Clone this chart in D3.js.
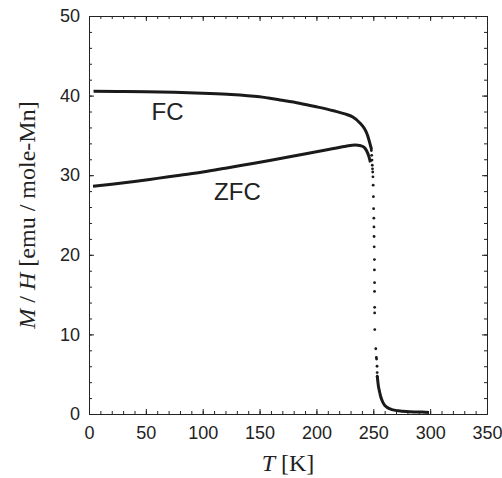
<!DOCTYPE html>
<html>
<head>
<meta charset="utf-8">
<script src="https://cdn.jsdelivr.net/npm/d3@7"></script>
<style>
  body { margin: 0; background: #fff; }
  .tick text { font-family: "Liberation Sans", Arial, sans-serif; font-size: 18px; fill: #222; }
</style>
</head>
<body>
<svg id="chart" width="502" height="478"></svg>
<script>
// T in K, M/H in emu / mole-Mn
// FC (field cooled) smooth part
const fcTemp = [4, 25, 50, 75, 100, 125, 150, 168, 185, 200, 215, 225, 232, 238, 242, 245, 247, 248.5];
const fcVal  = [40.55, 40.52, 40.48, 40.42, 40.3, 40.15, 39.85, 39.45, 39.05, 38.6, 38.1, 37.7, 37.3, 36.6, 35.9, 35.0, 34.0, 33.2];

// ZFC (zero field cooled) smooth part
const zfcTemp = [3.5, 20, 40, 60, 80, 100, 120, 140, 160, 180, 200, 215, 226, 234, 239, 242, 244, 246, 247.5];
const zfcVal  = [28.6, 28.85, 29.2, 29.6, 30.0, 30.4, 30.88, 31.38, 31.88, 32.4, 32.95, 33.35, 33.65, 33.8, 33.7, 33.5, 33.1, 32.4, 31.6];

// separated points of the transition (both runs merge here)
const dropTemp = [248.3, 248.6, 248.9, 249.1, 249.3, 249.5, 249.7, 249.9, 250.1, 250.3, 250.5, 250.6, 250.7, 250.8,
                  251.0, 251.0, 251.1, 251.1, 251.2, 251.2, 251.3, 252.2, 252.7, 252.9, 253.3, 253.4, 253.5];
const dropVal  = [33.1, 32.5, 31.9, 31.25, 30.8, 30.4, 29.8, 28.75, 27.3, 25.8, 24.6, 23.5, 22.3, 21.0,
                  19.4, 18.1, 16.5, 15.4, 13.4, 12.7, 10.6, 8.2, 7.1, 6.9, 6.0, 5.2, 4.75];

// paramagnetic tail
const tailTemp = [253.5, 254.5, 255.5, 256.5, 258, 259.5, 262, 266.5, 272, 279, 290, 299];
const tailVal  = [4.75, 3.5, 2.8, 2.2, 1.6, 1.2, 0.85, 0.55, 0.4, 0.3, 0.25, 0.2];

const xMajor = [0, 50, 100, 150, 200, 250, 300, 350];
const yMajor = [0, 10, 20, 30, 40, 50];
const xMinor = d3.range(0, 351, 10);
const yMinor = d3.range(0, 51, 2);

const svg = d3.select("#chart");
const pLeft = 89, pRight = 487, pTop = 16, pBottom = 414;

const x = d3.scaleLinear().domain([0, 350]).range([pLeft, pRight]);
const y = d3.scaleLinear().domain([0, 50]).range([pBottom, pTop]);

// minor ticks on all four sides
svg.append("g").attr("transform", `translate(0,${pBottom})`)
  .call(d3.axisBottom(x).tickValues(xMinor).tickSize(-3).tickSizeOuter(0).tickFormat(""));
svg.append("g").attr("transform", `translate(0,${pTop})`)
  .call(d3.axisTop(x).tickValues(xMinor).tickSize(-3).tickSizeOuter(0).tickFormat(""));
svg.append("g").attr("transform", `translate(${pLeft},0)`)
  .call(d3.axisLeft(y).tickValues(yMinor).tickSize(-3).tickSizeOuter(0).tickFormat(""));
svg.append("g").attr("transform", `translate(${pRight},0)`)
  .call(d3.axisRight(y).tickValues(yMinor).tickSize(-3).tickSizeOuter(0).tickFormat(""));

// major ticks, labels only bottom and left
svg.append("g").attr("transform", `translate(0,${pBottom})`)
  .call(d3.axisBottom(x).tickValues(xMajor).tickSize(-5).tickSizeOuter(0).tickPadding(12));
svg.append("g").attr("transform", `translate(0,${pTop})`)
  .call(d3.axisTop(x).tickValues(xMajor).tickSize(-5).tickSizeOuter(0).tickFormat(""));
svg.append("g").attr("transform", `translate(${pLeft},0)`)
  .call(d3.axisLeft(y).tickValues(yMajor).tickSize(-5).tickSizeOuter(0).tickPadding(9));
svg.append("g").attr("transform", `translate(${pRight},0)`)
  .call(d3.axisRight(y).tickValues(yMajor).tickSize(-5).tickSizeOuter(0).tickFormat(""));

svg.selectAll(".domain").attr("stroke", "#222");
svg.selectAll(".tick line").attr("stroke", "#222");

// curves
const line = d3.line().x(d => x(d[0])).y(d => y(d[1])).curve(d3.curveMonotoneX);
const ink = "#1a1a1a";

svg.append("path").datum(d3.zip(fcTemp, fcVal))
  .attr("d", line).attr("fill", "none").attr("stroke", ink).attr("stroke-width", 3);
svg.append("path").datum(d3.zip(zfcTemp, zfcVal))
  .attr("d", line).attr("fill", "none").attr("stroke", ink).attr("stroke-width", 3);
svg.append("path").datum(d3.zip(tailTemp, tailVal))
  .attr("d", line).attr("fill", "none").attr("stroke", ink).attr("stroke-width", 3);

svg.selectAll(".pt").data(d3.zip(dropTemp, dropVal)).enter()
  .append("circle").attr("class", "pt")
  .attr("cx", d => x(d[0])).attr("cy", d => y(d[1])).attr("r", 1.4).attr("fill", ink);

// curve labels
svg.append("text").attr("x", x(55)).attr("y", y(36.9)).text("FC")
  .style("font-family", "Liberation Sans, Arial, sans-serif").style("font-size", "24px").attr("fill", "#222");
svg.append("text").attr("x", x(110)).attr("y", y(26.9)).text("ZFC")
  .style("font-family", "Liberation Sans, Arial, sans-serif").style("font-size", "24px").attr("fill", "#222");

// axis titles
const xt = svg.append("text").attr("x", (pLeft + pRight) / 2).attr("y", 471).attr("text-anchor", "middle")
  .style("font-family", "Liberation Serif, Times New Roman, serif").style("font-size", "24px").attr("fill", "#222");
xt.append("tspan").style("font-style", "italic").text("T");
xt.append("tspan").text(" [K]");

const yt = svg.append("text").attr("transform", `translate(35,${(pTop + pBottom) / 2}) rotate(-90)`)
  .attr("text-anchor", "middle")
  .style("font-family", "Liberation Serif, Times New Roman, serif").style("font-size", "24px").attr("fill", "#222");
yt.append("tspan").style("font-style", "italic").text("M");
yt.append("tspan").text(" / ");
yt.append("tspan").style("font-style", "italic").text("H");
yt.append("tspan").text(" [emu / mole-Mn]");
</script>
</body>
</html>
